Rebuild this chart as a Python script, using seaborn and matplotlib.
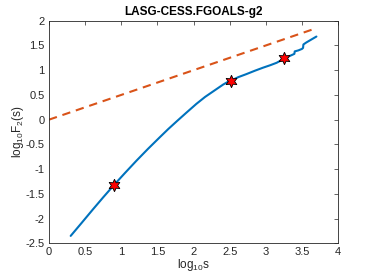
import numpy as np
import pandas as pd
import matplotlib
matplotlib.use('Agg')
import matplotlib.pyplot as plt
import seaborn as sns

# Fluctuation function (log-log)
log_s = [0.30, 0.45, 0.61, 0.75, 0.90, 1.05, 1.21, 1.37, 1.53, 1.65, 1.77, 1.90,
         2.04, 2.16, 2.27, 2.35, 2.41, 2.47, 2.52, 2.62, 2.73, 2.85, 2.96, 3.06,
         3.15, 3.20, 3.25, 3.32, 3.38, 3.395, 3.40, 3.45, 3.50, 3.515, 3.52,
         3.56, 3.63, 3.70]
log_F2 = [-2.35, -2.09, -1.81, -1.57, -1.32, -1.08, -0.83, -0.59, -0.36, -0.19,
          -0.03, 0.14, 0.32, 0.46, 0.57, 0.65, 0.71, 0.76, 0.79, 0.86, 0.92, 0.99,
          1.05, 1.10, 1.15, 1.19, 1.24, 1.28, 1.32, 1.33, 1.38, 1.40, 1.43, 1.45,
          1.52, 1.56, 1.62, 1.68]

# crossover points (stars)
star_x = [0.90, 2.52, 3.25]
star_y = [-1.32, 0.79, 1.24]

# reference line with slope 0.5
ref_x = [0.0, 3.7]
ref_y = [0.0, 1.85]

sns.set_style('white')
plt.rcParams['font.family'] = ['Liberation Sans', 'DejaVu Sans']
plt.rcParams['mathtext.fontset'] = 'custom'
plt.rcParams['mathtext.rm'] = 'Liberation Sans'
plt.rcParams['mathtext.it'] = 'Liberation Sans'

fig = plt.figure(figsize=(3.74, 2.8), dpi=100)
ax = fig.add_axes([0.131, 0.131, 0.773, 0.795])

curve = pd.DataFrame({'x': log_s, 'y': log_F2})
sns.lineplot(data=curve, x='x', y='y', ax=ax, color='#0072BD', linewidth=1.5, sort=False)
ax.plot(ref_x, ref_y, color='#D95319', linewidth=1.5, linestyle=(0, (4, 2.8)))
ax.plot(star_x, star_y, linestyle='none', marker=(6, 1, 0), markersize=9,
        markerfacecolor='red', markeredgecolor='black', markeredgewidth=0.6)

ax.set_xlim(0, 4)
ax.set_ylim(-2.5, 2)
xt = [0, 0.5, 1, 1.5, 2, 2.5, 3, 3.5, 4]
yt = [-2.5, -2, -1.5, -1, -0.5, 0, 0.5, 1, 1.5, 2]
ax.set_xticks(xt)
ax.set_xticklabels(['0', '0.5', '1', '1.5', '2', '2.5', '3', '3.5', '4'])
ax.set_yticks(yt)
ax.set_yticklabels(['-2.5', '-2', '-1.5', '-1', '-0.5', '0', '0.5', '1', '1.5', '2'])
ax.tick_params(direction='in', length=3, width=0.5, colors='#262626', labelsize=8,
               top=True, right=True, pad=3)
for sp in ax.spines.values():
    sp.set_color('#262626')
    sp.set_linewidth(0.6)

ax.set_xlabel('log$_{10}$s', fontsize=8.5, color='#262626', labelpad=0)
ax.set_ylabel('log$_{10}$F$_2$(s)', fontsize=8.5, color='#262626', labelpad=0)
ax.set_title('LASG-CESS.FGOALS-g2', fontsize=8.5, fontweight='bold', color='black', pad=4)

fig.savefig('out.png', dpi=100)
